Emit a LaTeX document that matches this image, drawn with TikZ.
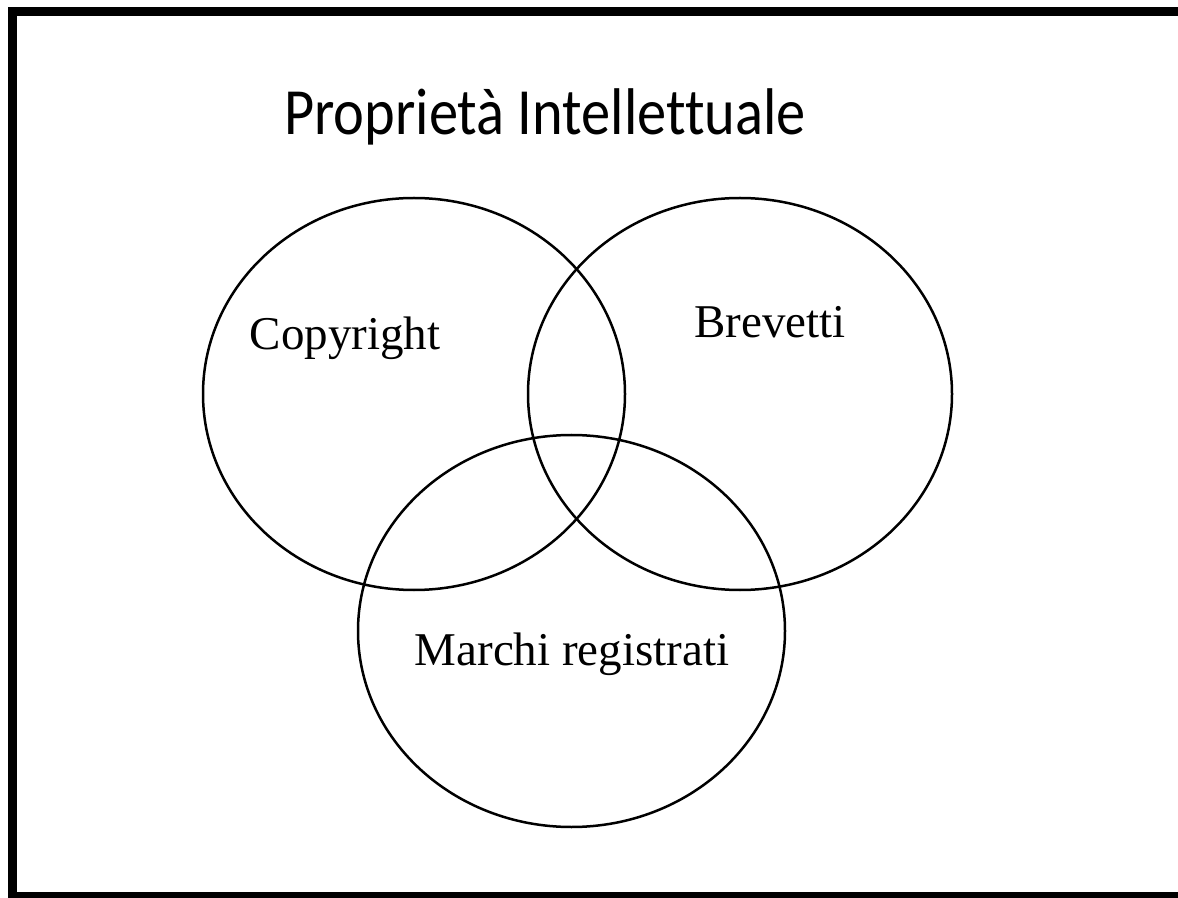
\documentclass[tikz,border=0pt]{standalone}
\usepackage{fontspec}
\setmainfont{Liberation Serif}
\newfontfamily\titlefont[FakeStretch=0.885,Ligatures=NoCommon]{Carlito}

\begin{document}
\begin{tikzpicture}[x=0.5pt,y=-0.5pt,
  venn/.style={line width=1.25pt,black},
  setlabel/.style={anchor=base,inner sep=0pt,font=\fontsize{23.5}{28}\selectfont}]
\useasboundingbox (0,0) rectangle (1178,898);
\clip (0,0) rectangle (1178,898);
% Frame
\draw[line width=4.5pt] (12,12) rectangle (1190,896);
% Title
\node[anchor=base,inner sep=0pt,font=\titlefont\fontsize{33}{40}\selectfont] (title) at (545,135) {Proprietà Intellettuale};
% Copyright
\draw[venn] (414,394) ellipse [x radius=211, y radius=196];
% Brevetti
\draw[venn] (740,394) ellipse [x radius=212, y radius=196];
% Marchi registrati
\draw[venn] (571.5,631) ellipse [x radius=213.5, y radius=196];
\node[setlabel] (copyright) at (345,350) {Copyright};
\node[setlabel] (brevetti) at (770,338) {Brevetti};
\node[setlabel] (marchi) at (572,665) {Marchi registrati};
\end{tikzpicture}
\end{document}
